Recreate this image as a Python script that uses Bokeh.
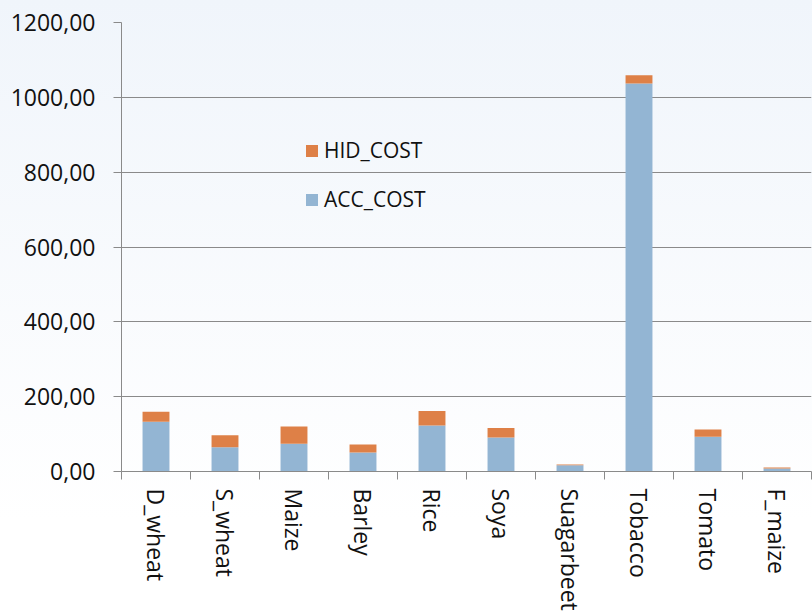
import numpy as np
from bokeh.plotting import figure
from bokeh.models import (Range1d, FixedTicker, CustomJSTickFormatter, Legend, LegendItem)
from bokeh.embed import file_html
from bokeh.resources import INLINE

categories = ["D_wheat", "S_wheat", "Maize", "Barley", "Rice", "Soya",
              "Suagarbeet", "Tobacco", "Tomato", "F_maize"]
acc_cost = [133, 65, 74, 51, 123, 91, 17, 1037, 93, 8]
hid_cost = [27, 32, 46, 21, 39, 25, 2, 22, 19, 3]
y_ticks = [0, 200, 400, 600, 800, 1000, 1200]

BLUE = "#93B5D3"
ORANGE = "#DE8047"
GREY = "#8A8A8A"
FONT = "Open Sans"

x = np.arange(len(categories)) + 0.5
source = dict(x=x, ACC_COST=acc_cost, HID_COST=hid_cost)

p = figure(width=812, height=613, output_backend="svg", toolbar_location=None,
           x_range=Range1d(0, len(categories)), y_range=Range1d(0, 1200),
           min_border_left=121, min_border_top=22, min_border_right=1,
           min_border_bottom=141)
p.background_fill_color = None
p.border_fill_color = None
p.outline_line_color = None
p.styles = {"background": "linear-gradient(to bottom, #F0F5FB 0%, #FFFFFF 85%)"}

rs = p.vbar_stack(["ACC_COST", "HID_COST"], x="x", width=0.39,
                  color=[BLUE, ORANGE], line_color=None, source=source)

legend = Legend(items=[LegendItem(label="HID_COST", renderers=[rs[1]]),
                       LegendItem(label="ACC_COST", renderers=[rs[0]])],
                location=(183, 258), orientation="vertical")
legend.background_fill_alpha = 0
legend.border_line_color = None
legend.padding = 0
legend.margin = 0
legend.glyph_width = 15
legend.glyph_height = 15
legend.label_height = 20
legend.spacing = 21
legend.label_standoff = 5
legend.label_text_font = FONT
legend.label_text_font_size = "21px"
legend.label_text_color = "#111111"
p.add_layout(legend, "center")

# y axis
p.yaxis.ticker = FixedTicker(ticks=y_ticks)
p.yaxis.formatter = CustomJSTickFormatter(code="return tick.toFixed(2).replace('.', ',');")
p.yaxis.major_label_text_font = FONT
p.yaxis.major_label_text_font_size = "23px"
p.yaxis.major_label_text_color = "#111111"
p.yaxis.axis_line_color = GREY
p.yaxis.major_tick_line_color = GREY
p.yaxis.major_tick_in = 0
p.yaxis.major_tick_out = 8
p.yaxis.minor_tick_line_color = None
p.yaxis.major_label_standoff = 18

# x axis: labels at centres, ticks at category boundaries
p.xaxis.ticker = FixedTicker(ticks=list(x), minor_ticks=list(range(len(categories) + 1)))
p.xaxis.major_label_overrides = {float(xi): c for xi, c in zip(x, categories)}
p.xaxis.major_label_orientation = -np.pi / 2
p.xaxis.major_label_text_font = FONT
p.xaxis.major_label_text_font_size = "23px"
p.xaxis.major_label_text_color = "#111111"
p.xaxis.axis_line_color = GREY
p.xaxis.major_tick_line_color = None
p.xaxis.major_tick_in = 0
p.xaxis.major_tick_out = 0
p.xaxis.minor_tick_line_color = GREY
p.xaxis.minor_tick_in = 0
p.xaxis.minor_tick_out = 8
p.xaxis.major_label_standoff = 9

p.xgrid.grid_line_color = None
p.ygrid.grid_line_color = GREY
p.ygrid.grid_line_width = 1

open("out.html", "w").write(file_html(p, INLINE))
